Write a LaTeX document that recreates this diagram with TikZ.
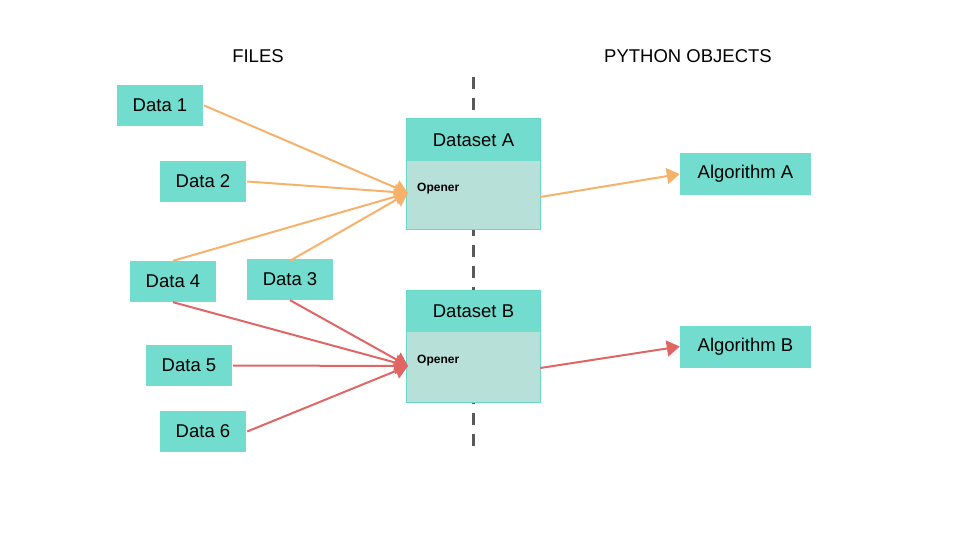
\documentclass[tikz,border=0pt]{standalone}
\usepackage{fontspec}
\setmainfont{Liberation Sans}
\usetikzlibrary{arrows.meta}
\definecolor{teal1}{HTML}{72DDCE}
\definecolor{teal2}{HTML}{B7E0D9}
\definecolor{tealborder}{HTML}{6AD8C8}
\definecolor{orng}{HTML}{F6B26B}
\definecolor{redl}{HTML}{E06666}
\definecolor{dgray}{HTML}{595959}
\tikzset{
  databox/.style={fill=teal1, draw=none, minimum width=86pt, minimum height=41pt, inner sep=0pt, font=\fontsize{18.5}{22}\selectfont},
  algbox/.style={fill=teal1, draw=none, minimum width=131pt, minimum height=42pt, inner sep=0pt, font=\fontsize{18.5}{22}\selectfont},
  dshead/.style={fill=teal1, draw=none, minimum width=133pt, inner sep=0pt, font=\fontsize{18.5}{22}\selectfont},
  dsbody/.style={fill=teal2, draw=none, minimum width=133pt, inner sep=0pt},
  openerlbl/.style={anchor=west, inner sep=0pt, font=\fontsize{12}{14}\selectfont\bfseries},
  titlelbl/.style={inner sep=0pt, font=\fontsize{18.5}{22}\selectfont},
  orangeline/.style={draw=orng, line width=2pt},
  redline/.style={draw=redl, line width=2pt},
  orangearrow/.style={orangeline, -{Triangle[length=13pt,width=16pt]}},
  redarrow/.style={redline, -{Triangle[length=13pt,width=16pt]}},
}
\begin{document}
\begin{tikzpicture}[x=1pt,y=-1pt]
\useasboundingbox (0,0) rectangle (960,540);
% titles
\node[titlelbl] (tfiles) at (258,56) {FILES};
\node[titlelbl] (tpy) at (688,56) {PYTHON OBJECTS};
% dashed separator
\coordinate (sepTop) at (473,77);
\coordinate (sepBot) at (473,447);
\draw[dgray, line width=3pt, dash pattern=on 12pt off 9pt] (sepTop) -- (sepBot);
% data boxes
\node[databox] (d1) at (160,105.5) {Data 1};
\node[databox] (d2) at (203,181.5) {Data 2};
\node[databox] (d4) at (173,281.5) {Data 4};
\node[databox] (d3) at (290,279.5) {Data 3};
\node[databox] (d5) at (189,365.5) {Data 5};
\node[databox] (d6) at (203,431.5) {Data 6};
% dataset A
\node[dshead, minimum height=42pt] (hA) at (473.5,140) {Dataset A};
\node[dsbody, minimum height=68pt] (bA) at (473.5,195) {};
\draw[tealborder, line width=1.2pt] (hA.north west) rectangle (bA.south east);
\node[openerlbl] (oA) at (417,189) {Opener};
% dataset B
\node[dshead, minimum height=41pt] (hB) at (473.5,311.5) {Dataset B};
\node[dsbody, minimum height=70pt] (bB) at (473.5,367) {};
\draw[tealborder, line width=1.2pt] (hB.north west) rectangle (bB.south east);
\node[openerlbl] (oB) at (417,361) {Opener};
% algorithms
\node[algbox] (aA) at (745.5,174) {Algorithm A};
\node[algbox] (aB) at (745.5,346.5) {Algorithm B};
% connectors to Dataset A
\coordinate (tipA) at (408,193);
\coordinate (tipB) at (408,366);
\draw[orangearrow] ([xshift=1pt]d1.east) -- (tipA);
\draw[orangearrow] ([xshift=1pt]d2.east) -- (tipA);
\draw[orangearrow] (d4.north) -- (tipA);
\draw[orangearrow] ([yshift=-2pt]d3.north) -- (tipA);
% connectors to Dataset B
\draw[redarrow] (d4.south) -- (tipB);
\draw[redarrow] (d3.south) -- (tipB);
\draw[redarrow] ([xshift=1pt]d5.east) -- (tipB);
\draw[redarrow] ([xshift=1pt]d6.east) -- (tipB);
% outputs
\draw[orangearrow] ([yshift=-2pt]bA.east) -- (aA.west);
\draw[redarrow] ([yshift=-1pt]bB.east) -- (aB.west);
\end{tikzpicture}
\end{document}
